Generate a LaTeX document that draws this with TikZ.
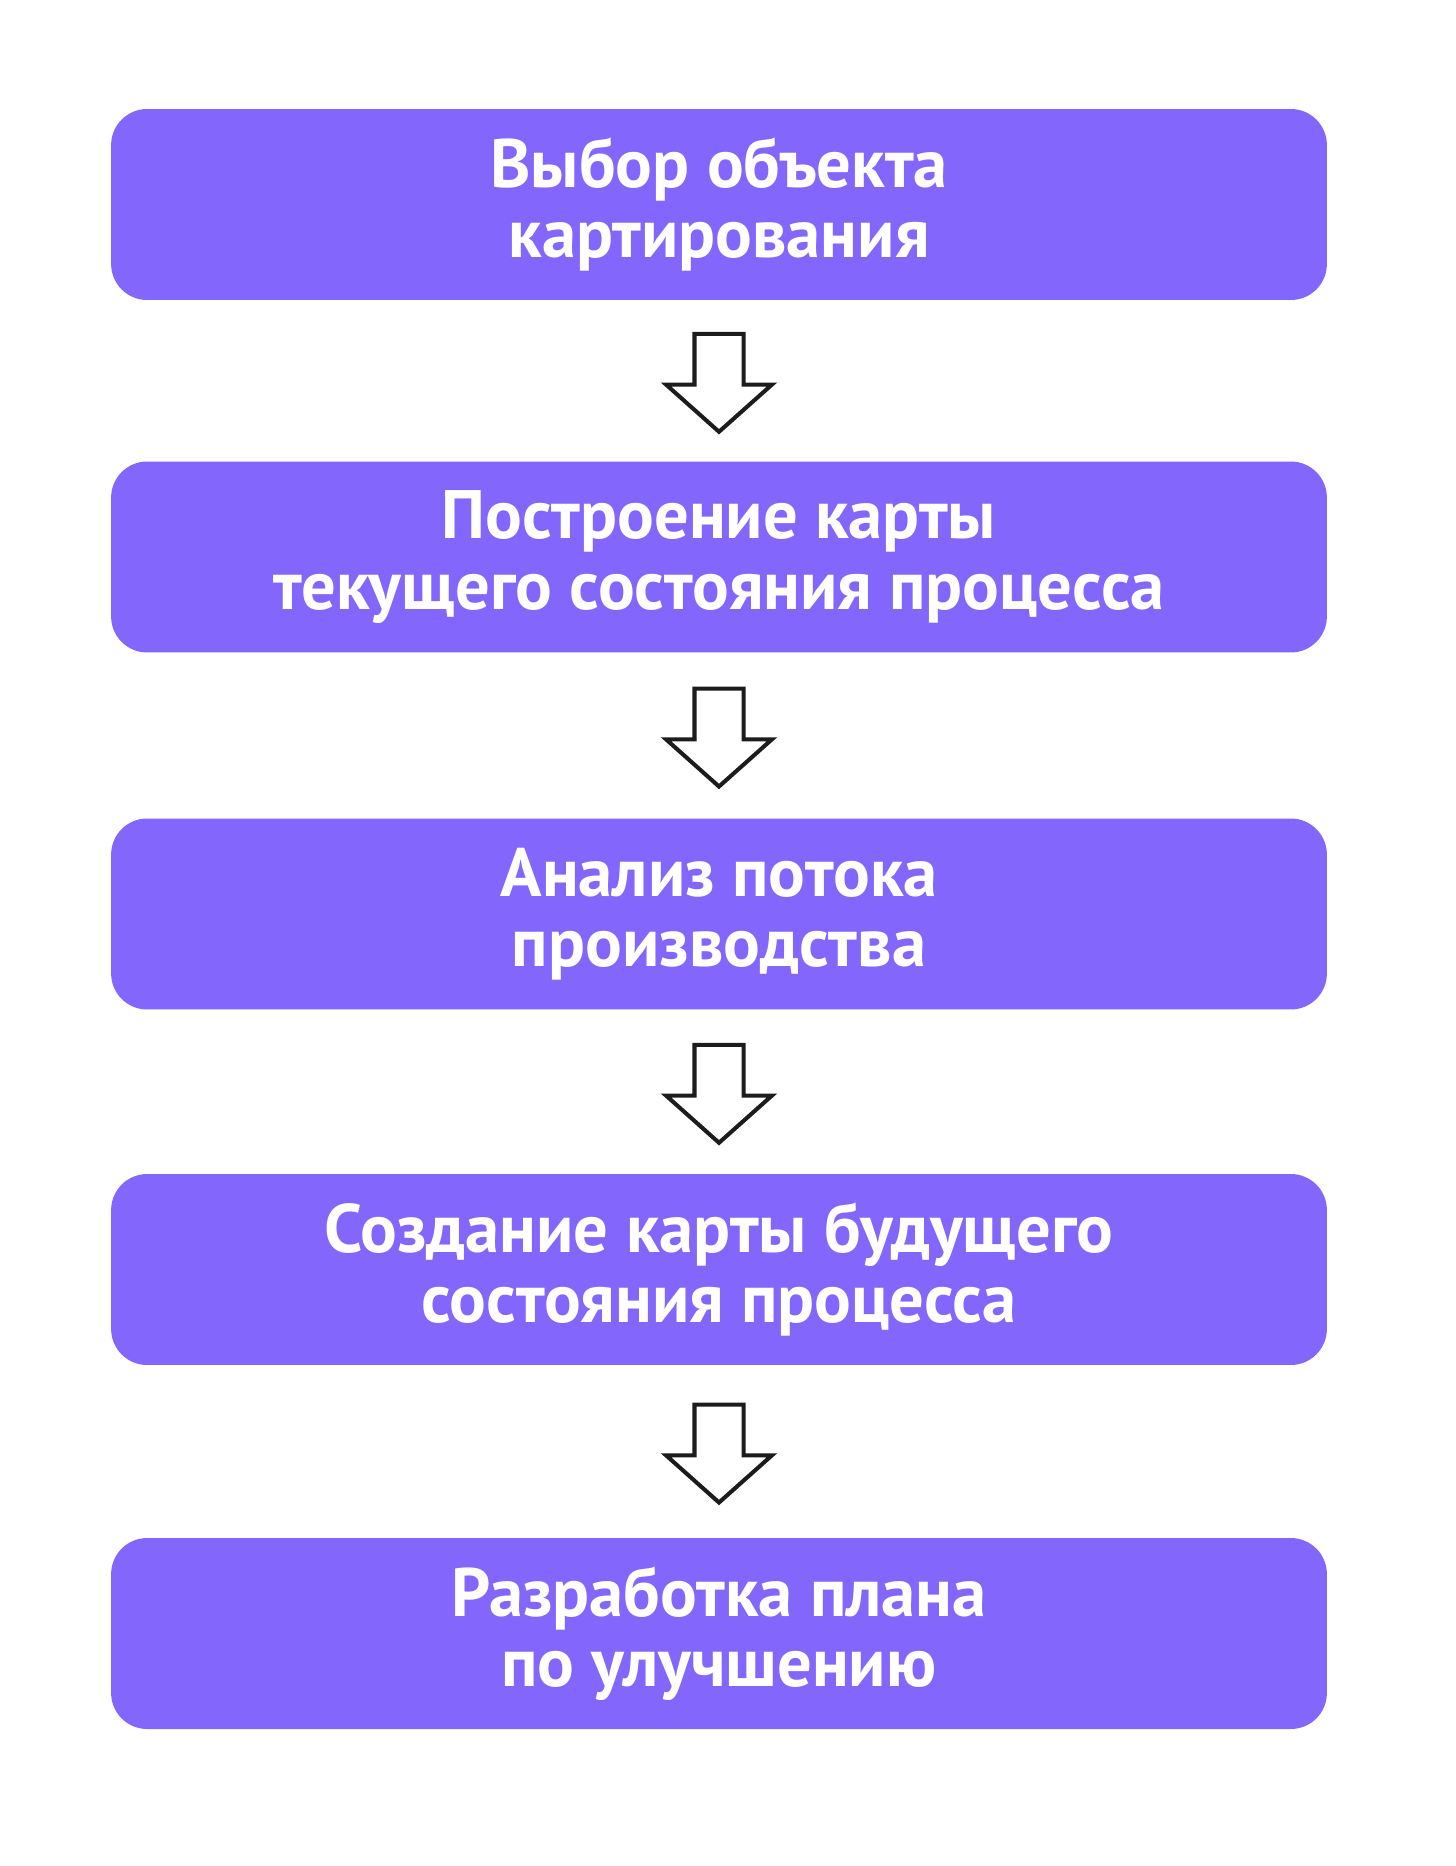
\documentclass[tikz,border=0pt]{standalone}
\usepackage{fontspec}
\setmainfont{PT Sans}
\usepackage{tikz}
\usetikzlibrary{shapes.arrows,calc}
\definecolor{boxviolet}{HTML}{8366FB}
\definecolor{arrowink}{HTML}{1C1C1C}
\tikzset{stage/.style={rectangle,rounded corners=0.72cm,fill=boxviolet,minimum width=24.32cm,minimum height=3.82cm,text=white,font=\fontsize{39}{40}\selectfont\bfseries,align=center}}
\tikzset{downarrow/.style={single arrow,draw=arrowink,fill=white,line width=2.3pt,shape border rotate=270,minimum height=1.96cm,inner sep=0.45cm,single arrow head extend=0.57cm,single arrow tip angle=96.6,anchor=tail}}

\begin{document}
\begin{tikzpicture}[x=0.02cm,y=-0.02cm]
    \useasboundingbox (0,0) rectangle (1455,1866);

    \node[stage] (b1) at (719,204.5) {Выбор объекта\\картирования};
    \node[stage] (b2) at (719,557) {Построение карты\\текущего состояния процесса};
    \node[stage] (b3) at (719,914) {Анализ потока\\производства};
    \node[stage] (b4) at (719,1269.5) {Создание карты будущего\\состояния процесса};
    \node[stage] (b5) at (719,1633.5) {Разработка плана\\по улучшению};

    \node[downarrow] (a1) at ($(b1.south)!0.5!(b2.north)+(0,-49)$) {};
    \node[downarrow] (a2) at ($(b2.south)!0.5!(b3.north)+(0,-49)$) {};
    \node[downarrow] (a3) at ($(b3.south)!0.5!(b4.north)+(0,-49)$) {};
    \node[downarrow] (a4) at ($(b4.south)!0.5!(b5.north)+(0,-49)$) {};
\end{tikzpicture}
\end{document}
